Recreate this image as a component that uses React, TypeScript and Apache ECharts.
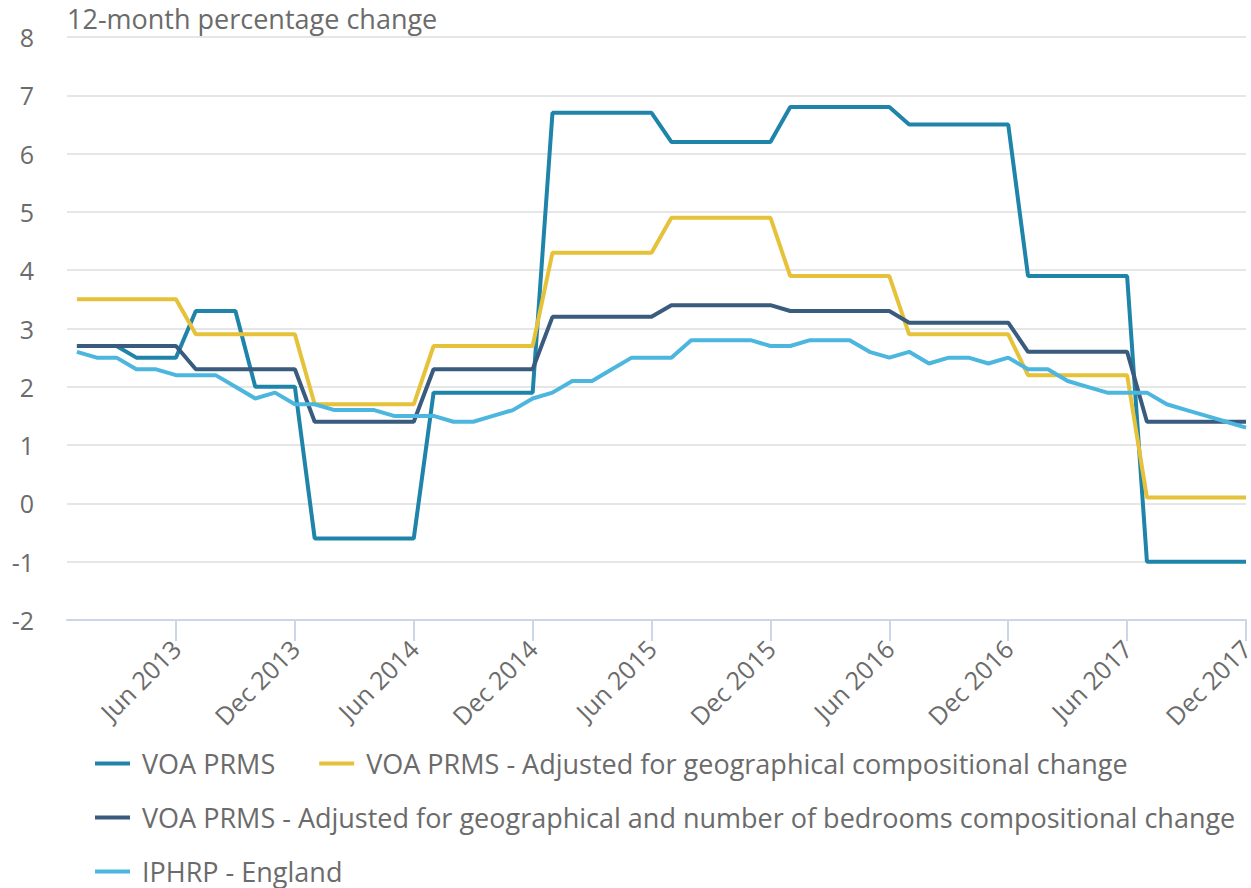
import React, { useEffect, useRef } from "react";
import * as echarts from "echarts";

const MONTHS = ["Jan", "Feb", "Mar", "Apr", "May", "Jun", "Jul", "Aug", "Sep", "Oct", "Nov", "Dec"];
const YEARS = [2013, 2014, 2015, 2016, 2017];
const categories = YEARS.flatMap((y) => MONTHS.map((m) => `${m} ${y}`));
const tickIndices = [5, 11, 17, 23, 29, 35, 41, 47, 53, 59];

const seriesNames = [
  "VOA PRMS",
  "VOA PRMS - Adjusted for geographical compositional change",
  "VOA PRMS - Adjusted for geographical and number of bedrooms compositional change",
  "IPHRP - England",
];
const seriesColors = ["#1f84aa", "#e6c23a", "#395b7e", "#4cb6df"];

const voaPrms = [
  2.7, 2.7, 2.7, 2.5, 2.5, 2.5, 3.3, 3.3, 3.3, 2.0, 2.0, 2.0,
  -0.6, -0.6, -0.6, -0.6, -0.6, -0.6, 1.9, 1.9, 1.9, 1.9, 1.9, 1.9,
  6.7, 6.7, 6.7, 6.7, 6.7, 6.7, 6.2, 6.2, 6.2, 6.2, 6.2, 6.2,
  6.8, 6.8, 6.8, 6.8, 6.8, 6.8, 6.5, 6.5, 6.5, 6.5, 6.5, 6.5,
  3.9, 3.9, 3.9, 3.9, 3.9, 3.9, -1.0, -1.0, -1.0, -1.0, -1.0, -1.0,
];
const voaGeo = [
  3.5, 3.5, 3.5, 3.5, 3.5, 3.5, 2.9, 2.9, 2.9, 2.9, 2.9, 2.9,
  1.7, 1.7, 1.7, 1.7, 1.7, 1.7, 2.7, 2.7, 2.7, 2.7, 2.7, 2.7,
  4.3, 4.3, 4.3, 4.3, 4.3, 4.3, 4.9, 4.9, 4.9, 4.9, 4.9, 4.9,
  3.9, 3.9, 3.9, 3.9, 3.9, 3.9, 2.9, 2.9, 2.9, 2.9, 2.9, 2.9,
  2.2, 2.2, 2.2, 2.2, 2.2, 2.2, 0.1, 0.1, 0.1, 0.1, 0.1, 0.1,
];
const voaGeoBed = [
  2.7, 2.7, 2.7, 2.7, 2.7, 2.7, 2.3, 2.3, 2.3, 2.3, 2.3, 2.3,
  1.4, 1.4, 1.4, 1.4, 1.4, 1.4, 2.3, 2.3, 2.3, 2.3, 2.3, 2.3,
  3.2, 3.2, 3.2, 3.2, 3.2, 3.2, 3.4, 3.4, 3.4, 3.4, 3.4, 3.4,
  3.3, 3.3, 3.3, 3.3, 3.3, 3.3, 3.1, 3.1, 3.1, 3.1, 3.1, 3.1,
  2.6, 2.6, 2.6, 2.6, 2.6, 2.6, 1.4, 1.4, 1.4, 1.4, 1.4, 1.4,
];
const iphrp = [
  2.6, 2.5, 2.5, 2.3, 2.3, 2.2, 2.2, 2.2, 2.0, 1.8, 1.9, 1.7,
  1.7, 1.6, 1.6, 1.6, 1.5, 1.5, 1.5, 1.4, 1.4, 1.5, 1.6, 1.8,
  1.9, 2.1, 2.1, 2.3, 2.5, 2.5, 2.5, 2.8, 2.8, 2.8, 2.8, 2.7,
  2.7, 2.8, 2.8, 2.8, 2.6, 2.5, 2.6, 2.4, 2.5, 2.5, 2.4, 2.5,
  2.3, 2.3, 2.1, 2.0, 1.9, 1.9, 1.9, 1.7, 1.6, 1.5, 1.4, 1.3,
];
const seriesValues = [voaPrms, voaGeo, voaGeoBed, iphrp];

const FONT = "'Open Sans', 'Noto Sans', sans-serif";
const TEXT_COLOR = "#6b6b6b";

export default function App() {
  const ref = useRef<HTMLDivElement>(null);

  useEffect(() => {
    document.body.style.margin = "0";
    if (!ref.current) return;
    const chart = echarts.init(ref.current, undefined, { renderer: "svg" });
    chart.setOption({
      animation: false,
      textStyle: { fontFamily: FONT },
      title: {
        text: "12-month percentage change",
        left: 67,
        top: 5,
        padding: 0,
        textStyle: { fontSize: 27, fontWeight: "normal", color: TEXT_COLOR, fontFamily: FONT },
      },
      grid: {
        left: 67,
        right: 5,
        top: 37,
        bottom: 268,
        containLabel: false,
        outerBoundsMode: "none",
      },
      xAxis: {
        type: "value",
        min: -0.5,
        max: 59,
        axisLine: { show: true, onZero: false, lineStyle: { color: "#ccd6eb", width: 2 } },
        axisTick: {
          show: true,
          customValues: tickIndices,
          length: 21,
          lineStyle: { color: "#ccd6eb", width: 2 },
        },
        axisLabel: {
          customValues: tickIndices,
          rotate: 45,
          margin: 24,
          color: TEXT_COLOR,
          fontSize: 25,
          fontFamily: FONT,
          formatter: (v: number) => categories[Math.round(v)],
        },
        splitLine: { show: false },
      },
      yAxis: {
        type: "value",
        min: -2,
        max: 8,
        interval: 1,
        axisLine: { show: false },
        axisTick: { show: false },
        axisLabel: { color: TEXT_COLOR, fontSize: 25, margin: 33, fontFamily: FONT },
        splitLine: { lineStyle: { color: "#e6e6e6", width: 2 } },
      },
      legend: {
        left: 95,
        top: 750,
        padding: 0,
        itemGap: 27,
        itemWidth: 35,
        itemHeight: 4,
        icon: "rect",
        data: seriesNames,
        textStyle: {
          fontSize: 27,
          color: TEXT_COLOR,
          fontFamily: FONT,
          lineHeight: 27,
          padding: [0, 17, 0, 7],
        },
      },
      series: seriesNames.map((name, si) => ({
        name,
        type: "line",
        data: seriesValues[si].map((v, i) => [i, v]),
        showSymbol: false,
        symbol: "none",
        color: seriesColors[si],
        lineStyle: { width: 4, color: seriesColors[si] },
      })),
    });
    return () => chart.dispose();
  }, []);

  return <div ref={ref} style={{ width: 1251, height: 888 }} />;
}
